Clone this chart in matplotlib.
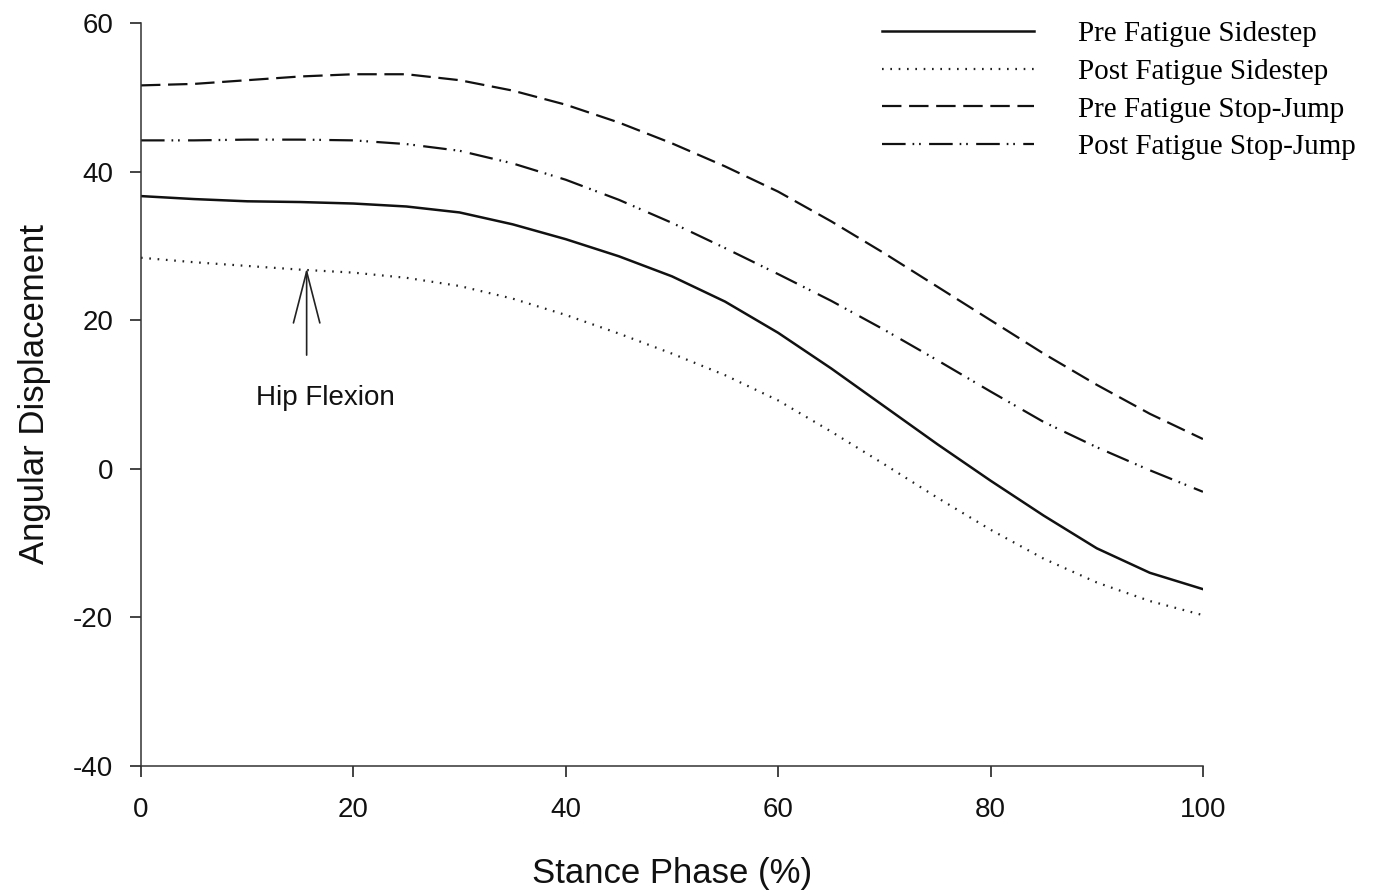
import matplotlib
matplotlib.use("Agg")
import matplotlib.pyplot as plt

# stance phase (%) sample points
stance = [0, 5, 10, 15, 20, 25, 30, 35, 40, 45, 50,
          55, 60, 65, 70, 75, 80, 85, 90, 95, 100]

# hip flexion angular displacement
pre_sidestep = [36.7, 36.3, 36.0, 35.9, 35.7, 35.3, 34.5, 32.9, 30.9, 28.6, 25.9,
                22.5, 18.3, 13.5, 8.4, 3.3, -1.6, -6.3, -10.7, -14.0, -16.2]
post_sidestep = [28.4, 27.8, 27.3, 26.8, 26.4, 25.7, 24.6, 22.9, 20.7, 18.2, 15.5,
                 12.6, 9.2, 5.0, 0.6, -3.9, -8.2, -12.1, -15.3, -17.8, -19.7]
pre_stopjump = [51.6, 51.8, 52.3, 52.8, 53.1, 53.1, 52.3, 50.9, 49.0, 46.6, 43.8,
                40.7, 37.3, 33.3, 29.0, 24.5, 20.0, 15.5, 11.3, 7.4, 4.0]
post_stopjump = [44.2, 44.2, 44.3, 44.3, 44.2, 43.7, 42.8, 41.1, 38.9, 36.2, 33.1,
                 29.7, 26.2, 22.6, 18.7, 14.6, 10.4, 6.3, 2.9, -0.2, -3.1]

labels = ["Pre Fatigue Sidestep", "Post Fatigue Sidestep",
          "Pre Fatigue Stop-Jump", "Post Fatigue Stop-Jump"]

xticks = [0, 20, 40, 60, 80, 100]
yticks = [-40, -20, 0, 20, 40, 60]

plt.rcParams['lines.scale_dashes'] = False
plt.rcParams['axes.unicode_minus'] = False
plt.rcParams['font.family'] = ['Liberation Sans', 'DejaVu Sans']

fig = plt.figure(figsize=(13.74, 8.94), dpi=100)
ax = fig.add_axes([0.1026, 0.1432, 0.7729, 0.8311])

ax.plot(stance, pre_sidestep, color='#111111', lw=1.8, linestyle='-', label=labels[0])
ax.plot(stance, post_sidestep, color='#222222', lw=1.6, linestyle=(0, (1.2, 4.8)), label=labels[1])
ax.plot(stance, pre_stopjump, color='#111111', lw=1.6, linestyle=(0, (14, 5.5)), label=labels[2])
ax.plot(stance, post_stopjump, color='#111111', lw=1.6,
        linestyle=(0, (17, 5, 1.2, 3.5, 1.2, 6)), label=labels[3])

# hip flexion arrow
ax.annotate('', xy=(15.6, 27.0), xytext=(15.6, 15.3),
            arrowprops=dict(arrowstyle='->,head_length=3.7,head_width=0.95',
                            lw=1.2, color='#222222', mutation_scale=10,
                            shrinkA=0, shrinkB=0))
ax.text(17.4, 9.5, "Hip Flexion", fontsize=20, ha='center', va='center', color='#111111')

ax.set_xlim(0, 100)
ax.set_ylim(-40, 60)
ax.set_xticks(xticks)
ax.set_yticks(yticks)
ax.tick_params(direction='out', length=8, width=1.1, labelsize=20, pad=12, colors='#111111')
ax.tick_params(axis='x', pad=14)

for side in ['top', 'right']:
    ax.spines[side].set_visible(False)
for side in ['left', 'bottom']:
    ax.spines[side].set_linewidth(1.1)
    ax.spines[side].set_color('#333333')

ax.set_xlabel("Stance Phase (%)", fontsize=25, labelpad=25, color='#111111')
ax.set_ylabel("Angular Displacement", fontsize=25, labelpad=16, color='#111111')

leg = ax.legend(loc='upper left', bbox_to_anchor=(0.642, 0.977), bbox_transform=fig.transFigure,
                frameon=False, handlelength=5.2, handletextpad=1.5, labelspacing=0.39,
                borderpad=0, borderaxespad=0,
                prop={'family': ['Liberation Serif', 'DejaVu Serif'], 'size': 21})

fig.savefig("out.png", dpi=100)
